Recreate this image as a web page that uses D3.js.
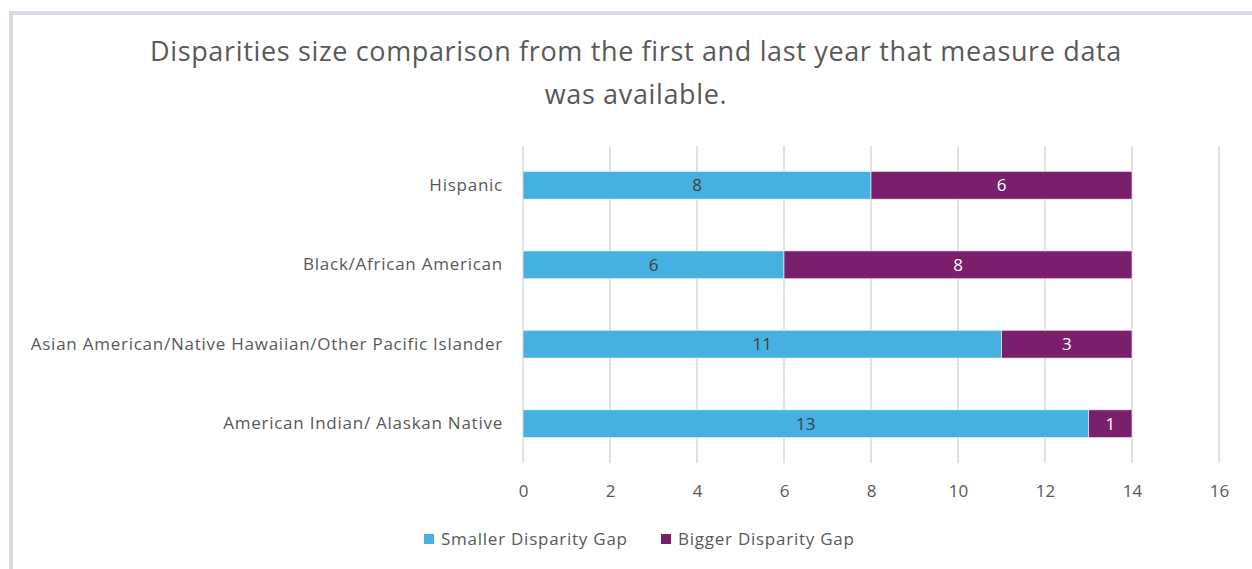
<!DOCTYPE html>
<html>
<head>
<meta charset="utf-8">
<script src="https://cdn.jsdelivr.net/npm/d3@7"></script>
<style>
  body { margin: 0; background: #fff; }
  svg { display: block; font-family: "Open Sans", "Noto Sans", sans-serif; }
</style>
</head>
<body>
<div id="chart"></div>
<script>
// Stacked horizontal bar chart: disparity gap comparison by group

const groups = [
  'Hispanic',
  'Black/African American',
  'Asian American/Native Hawaiian/Other Pacific Islander',
  'American Indian/ Alaskan Native'
];
const smallerGap = [8, 6, 11, 13];
const biggerGap = [6, 8, 3, 1];
const seriesNames = ['Smaller Disparity Gap', 'Bigger Disparity Gap'];
const seriesColors = ['#46b0e0', '#7a1f6b'];
const xTicks = [0, 2, 4, 6, 8, 10, 12, 14, 16];

const W = 1252, H = 569;
const margin = { top: 146, right: 33, bottom: 106, left: 523 };
const width = W - margin.left - margin.right;
const height = H - margin.top - margin.bottom;

const svg = d3.select('#chart')
  .append('svg')
  .attr('width', W)
  .attr('height', H);

// outer frame (cropped at right and bottom)
svg.append('rect')
  .attr('x', 11)
  .attr('y', 13)
  .attr('width', W + 10)
  .attr('height', H + 10)
  .attr('fill', 'none')
  .attr('stroke', '#d6dae1')
  .attr('stroke-width', 4);

// title
const titleLines = [
  'Disparities size comparison from the first and last year that measure data',
  'was available.'
];
svg.append('g').selectAll('text')
  .data(titleLines)
  .enter()
  .append('text')
  .attr('x', 636)
  .attr('y', (d, i) => 61 + i * 43)
  .attr('text-anchor', 'middle')
  .style('font-size', '27px')
  .style('letter-spacing', '0.65px')
  .style('fill', '#595959')
  .text(d => d);

const g = svg.append('g')
  .attr('transform', `translate(${margin.left}, ${margin.top})`);

const x = d3.scaleLinear()
  .domain([0, 16])
  .range([0, width]);

const y = d3.scaleBand()
  .domain(groups)
  .range([0, height])
  .paddingInner(0.65)
  .paddingOuter(0.32);

// gridlines
g.append('g')
  .selectAll('line')
  .data(xTicks)
  .enter()
  .append('line')
  .attr('x1', d => x(d))
  .attr('x2', d => x(d))
  .attr('y1', 0)
  .attr('y2', height)
  .attr('stroke', '#d9d9d9')
  .attr('stroke-width', 1.5);

// x axis labels
const xAxis = d3.axisBottom(x)
  .tickValues(xTicks)
  .tickSize(0)
  .tickPadding(22);

g.append('g')
  .attr('transform', `translate(0, ${height})`)
  .call(xAxis)
  .call(ax => ax.select('.domain').remove())
  .selectAll('text')
  .style('font-family', '"Open Sans", "Noto Sans", sans-serif')
  .style('font-size', '17px')
  .style('fill', '#595959');

// y labels
const yAxis = d3.axisLeft(y)
  .tickSize(0)
  .tickPadding(20);

g.append('g')
  .call(yAxis)
  .call(ax => ax.select('.domain').remove())
  .selectAll('text')
  .style('font-family', '"Open Sans", "Noto Sans", sans-serif')
  .style('font-size', '17px')
  .style('letter-spacing', '0.75px')
  .style('fill', '#595959');

// stacked data
const rows = groups.map((name, i) => ({
  name,
  smaller: smallerGap[i],
  bigger: biggerGap[i]
}));
const stack = d3.stack().keys(['smaller', 'bigger']);
const stacked = stack(rows);

const layers = g.selectAll('.layer')
  .data(stacked)
  .enter()
  .append('g')
  .attr('class', 'layer')
  .attr('fill', (d, i) => seriesColors[i]);

layers.selectAll('rect')
  .data(d => d)
  .enter()
  .append('rect')
  .attr('x', d => x(d[0]))
  .attr('y', d => y(d.data.name))
  .attr('width', d => x(d[1]) - x(d[0]))
  .attr('height', y.bandwidth())
  .attr('stroke', '#fff')
  .attr('stroke-opacity', 0.6)
  .attr('stroke-width', 1);

// value labels
layers.each(function(layer, li) {
  d3.select(this).selectAll('text')
    .data(layer)
    .enter()
    .append('text')
    .attr('x', d => (x(d[0]) + x(d[1])) / 2)
    .attr('y', d => y(d.data.name) + y.bandwidth() / 2)
    .attr('dy', '0.36em')
    .attr('text-anchor', 'middle')
    .style('font-size', '17px')
    .style('fill', li === 0 ? '#404040' : '#ffffff')
    .text(d => d[1] - d[0]);
});

// legend
const legend = svg.append('g')
  .attr('transform', 'translate(424, 539)');

const legendX = [0, 237];
const items = legend.selectAll('g')
  .data(seriesNames)
  .enter()
  .append('g')
  .attr('transform', (d, i) => `translate(${legendX[i]}, 0)`);

items.append('rect')
  .attr('x', 0)
  .attr('y', -5)
  .attr('width', 10)
  .attr('height', 10)
  .attr('fill', (d, i) => seriesColors[i]);

items.append('text')
  .attr('x', 17)
  .attr('y', 0)
  .attr('dy', '0.36em')
  .style('font-size', '17px')
  .style('letter-spacing', '0.75px')
  .style('fill', '#595959')
  .text(d => d);
</script>
</body>
</html>
